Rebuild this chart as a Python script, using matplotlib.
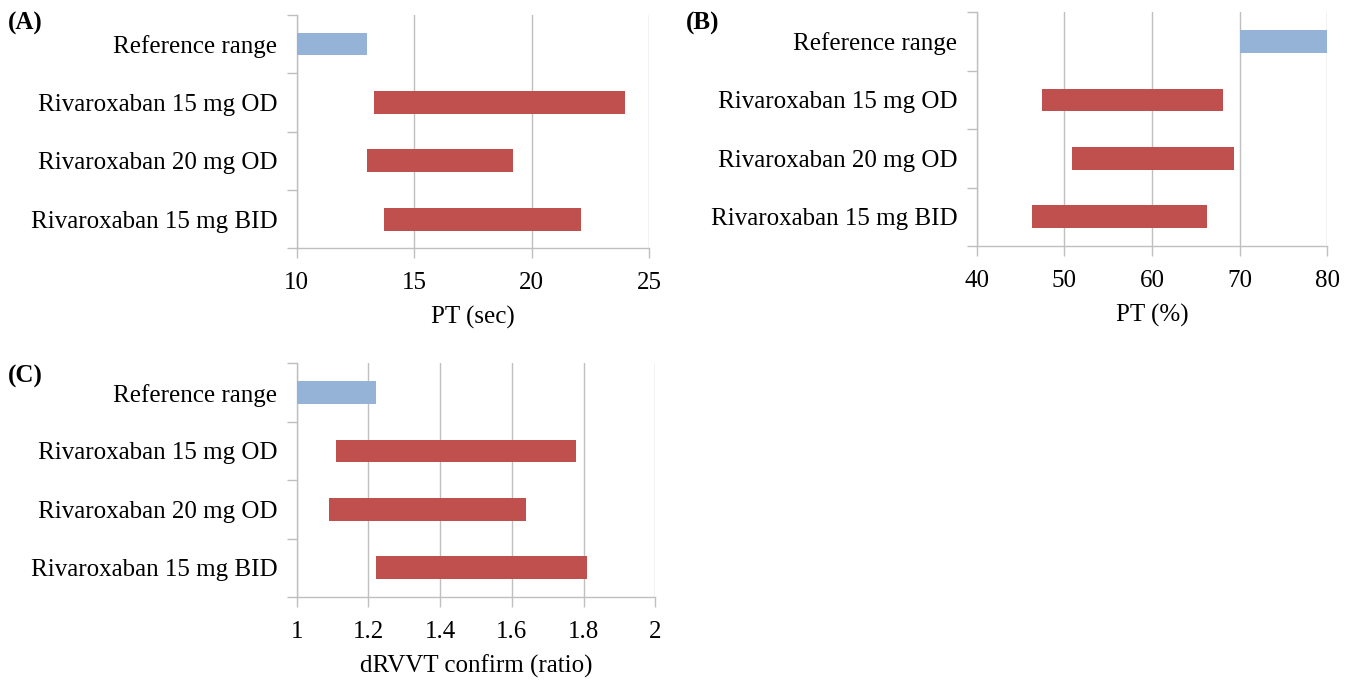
import matplotlib
matplotlib.use("Agg")
import matplotlib.pyplot as plt
import numpy as np

plt.rcParams['font.family'] = ['Liberation Serif', 'DejaVu Serif']

categories = ["Reference range", "Rivaroxaban 15 mg OD", "Rivaroxaban 20 mg OD", "Rivaroxaban 15 mg BID"]

# Panel A: PT (sec)
pt_sec_low = [10.0, 13.3, 13.0, 13.7]
pt_sec_high = [13.0, 24.0, 19.2, 22.1]
pt_sec_ticks = [10, 15, 20, 25]

# Panel B: PT (%)
pt_pct_low = [70.0, 47.5, 50.9, 46.3]
pt_pct_high = [80.0, 68.1, 69.4, 66.3]
pt_pct_ticks = [40, 50, 60, 70, 80]

# Panel C: dRVVT confirm (ratio)
drvvt_low = [1.0, 1.11, 1.09, 1.22]
drvvt_high = [1.22, 1.78, 1.64, 1.81]
drvvt_ticks = [1, 1.2, 1.4, 1.6, 1.8, 2]
drvvt_ticklabels = ["1", "1.2", "1.4", "1.6", "1.8", "2"]

BLUE = "#95B3D7"
RED = "#C0504D"
GRID = "#BFBFBF"
FS = 18

fig = plt.figure(figsize=(13.56, 6.82), dpi=100)

def panel(rect, lows, highs, ticks, ticklabels, xlabel, letter, letter_pos):
    ax = fig.add_axes(rect)
    y = np.arange(len(categories))
    lows = np.array(lows); highs = np.array(highs)
    colors = [BLUE] + [RED] * (len(categories) - 1)
    ax.barh(y, highs - lows, left=lows, height=0.39, color=colors, edgecolor='none', zorder=3)
    ax.set_ylim(len(categories) - 0.5, -0.5)
    ax.set_xlim(ticks[0], ticks[-1])
    ax.set_xticks(ticks)
    ax.set_xticklabels(ticklabels, fontsize=FS)
    ax.set_yticks(np.arange(len(categories) + 1) - 0.5, minor=False)
    ax.set_yticklabels([])
    ax.set_yticks(y, minor=True)
    ax.set_yticklabels(categories, minor=True, fontsize=FS)
    ax.tick_params(axis='y', which='minor', length=0, pad=14)
    ax.tick_params(axis='y', which='major', length=7, color=GRID, width=1)
    ax.tick_params(axis='x', length=7, color=GRID, width=1, pad=10)
    ax.xaxis.grid(True, color=GRID, linewidth=1, zorder=0)
    ax.set_axisbelow(True)
    for s in ['top', 'right']:
        ax.spines[s].set_visible(False)
    for s in ['left', 'bottom']:
        ax.spines[s].set_color(GRID)
        ax.spines[s].set_linewidth(1)
    ax.set_xlabel(xlabel, fontsize=FS, labelpad=8.5)
    fig.text(letter_pos[0], letter_pos[1], letter, fontsize=FS, fontweight='bold', ha='left', va='center')
    return ax

panel([0.2188, 0.6359, 0.2598, 0.3425], pt_sec_low, pt_sec_high, pt_sec_ticks,
      [str(t) for t in pt_sec_ticks], "PT (sec)", "(A)", (0.006, 0.966))
panel([0.7203, 0.6393, 0.2585, 0.3427], pt_pct_low, pt_pct_high, pt_pct_ticks,
      [str(t) for t in pt_pct_ticks], "PT (%)", "(B)", (0.506, 0.966))
panel([0.2188, 0.1246, 0.2645, 0.3427], drvvt_low, drvvt_high, drvvt_ticks,
      drvvt_ticklabels, "dRVVT confirm (ratio)", "(C)", (0.006, 0.448))

fig.savefig("out.png", dpi=100)
